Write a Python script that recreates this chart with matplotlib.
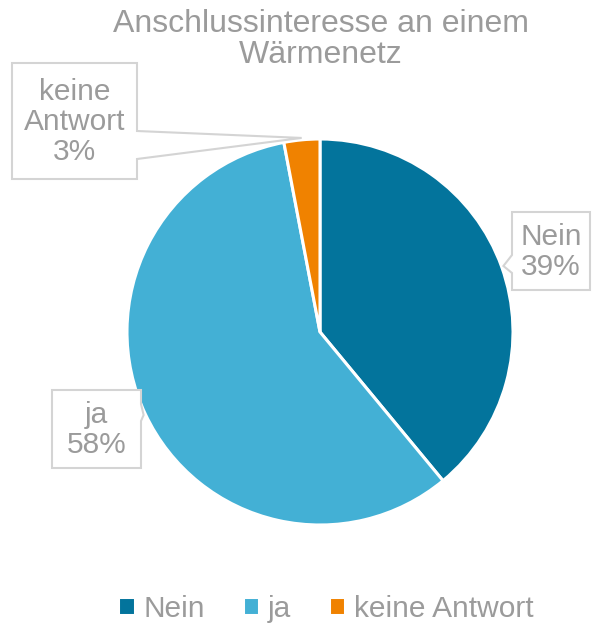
import numpy as np
import matplotlib
matplotlib.use("Agg")
import matplotlib.pyplot as plt
import matplotlib.transforms as mtransforms
from matplotlib.patches import Polygon

plt.rcParams['font.family'] = ['Liberation Sans', 'DejaVu Sans']

title = "Anschlussinteresse an einem\nWärmenetz"
categories = ["Nein", "ja", "keine Antwort"]
values = [39, 58, 3]
colors = ["#03749C", "#43B0D5", "#F08200"]

W, H = 593, 629
grey = "#9B9B9B"
edge = "#D4D4D4"

fig = plt.figure(figsize=(W / 100, H / 100), dpi=100)
# pixel coordinates of the reference image (y down)
T = mtransforms.Affine2D().scale(1 / W, -1 / H).translate(0, 1) + fig.transFigure

cx, cy, r = 320, 332, 193
ax = fig.add_axes([(cx - r) / W, (H - cy - r) / H, 2 * r / W, 2 * r / H])
wedges, _ = ax.pie(values, colors=colors, startangle=90, counterclock=False,
                   wedgeprops=dict(edgecolor="white", linewidth=2.2))
ax.set_aspect("equal")
ax.set_xlim(-1, 1)
ax.set_ylim(-1, 1)

fig.text(321 / W, 1 - 9 / H, title, ha="center", va="top", fontsize=23,
         color=grey, linespacing=1.03)

# label boxes: (left, top, right, bottom) in pixels, side of pointer, pointer base
boxes = [
    ((512, 212, 590, 290), "left", (255, 273)),
    ((52, 390, 141, 468), "right", (404, 421)),
    ((12, 63, 137, 179), "right", (131, 159)),
]

for w, name, v, (box, side, base) in zip(wedges, categories, values, boxes):
    ang = np.deg2rad((w.theta1 + w.theta2) / 2)
    tip_d = ax.transData.transform((1.01 * np.cos(ang), 1.01 * np.sin(ang)))
    tx, ty = T.inverted().transform(tip_d)
    L, Tp, R, B = box
    if side == "left":
        verts = [(L, Tp), (R, Tp), (R, B), (L, B), (L, base[1]), (tx, ty), (L, base[0])]
    else:
        verts = [(L, Tp), (R, Tp), (R, base[0]), (tx, ty), (R, base[1]), (R, B), (L, B)]
    fig.patches.append(Polygon(verts, closed=True, transform=T, facecolor="white",
                               edgecolor=edge, linewidth=1.5))
    txt = name.replace(" ", "\n") + "\n%d%%" % round(v)
    fig.text(*T.transform(((L + R) / 2, (Tp + B) / 2 + 1)), txt,
             transform=None, ha="center", va="center", fontsize=21.5,
             color=grey, linespacing=1.1)

fig.legend(wedges, categories, loc="center", bbox_to_anchor=(326 / W, 1 - 609 / H),
           ncol=3, frameon=False, fontsize=21.5, labelcolor=grey,
           handlelength=0.55, handleheight=0.55, handletextpad=0.3, columnspacing=1.25)

fig.savefig("out.png", dpi=100)
